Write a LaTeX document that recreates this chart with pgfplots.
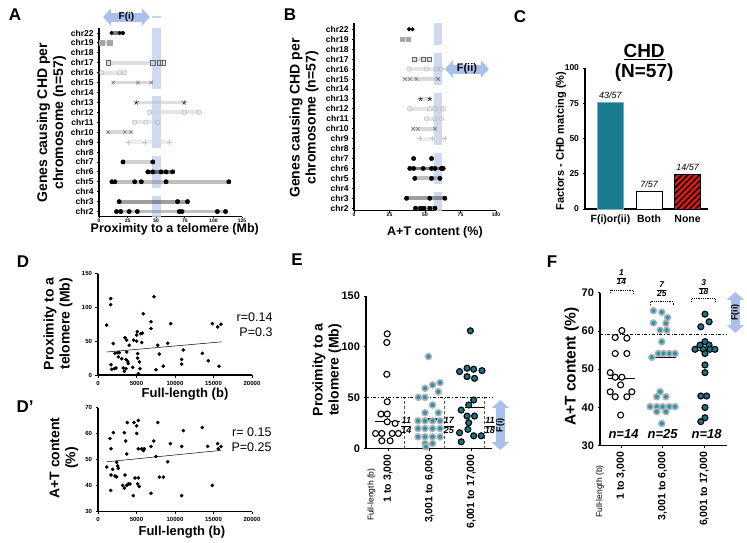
\documentclass[border=0pt]{standalone}
\usepackage{fontspec}
\setmainfont{Liberation Sans}
\usepackage{pgfplots}
\pgfplotsset{compat=1.18}
\usetikzlibrary{arrows.meta,patterns.meta}
\definecolor{tealA}{RGB}{22,124,142}
\definecolor{tealB}{RGB}{38,152,172}
\definecolor{tealC}{RGB}{20,118,135}
\definecolor{bandblue}{RGB}{198,212,240}
\definecolor{arrblue}{RGB}{168,192,234}
\definecolor{hatchred}{RGB}{228,22,22}
\newcommand{\fs}[2]{\fontsize{#1}{#2}\selectfont}
\newcommand{\fr}[2]{\renewcommand{\arraystretch}{0.85}\setlength{\arrayrulewidth}{0.6pt}\begin{tabular}{@{}c@{}}#1\\\hline #2\end{tabular}}
\tikzset{arr/.style={arrblue, line width=9pt, {Triangle[width=17pt,length=8pt]}-{Triangle[width=17pt,length=8pt]}}}
\pgfplotsset{
  base/.style={scale only axis, clip=false, anchor=south west,
    axis x line*=bottom, axis y line*=left,
    axis line style={line width=1.1pt, black},
    tick style={black, line width=0.8pt},
    tick align=outside, major tick length=2.5pt,
    /pgf/number format/assume math mode=true,
    /pgf/number format/set thousands separator={},
    scaled ticks=false,
    ticklabel style={font=\bfseries\fs{6}{7}},
    xlabel style={anchor=center, font=\bfseries\fs{13}{15}},
    ylabel style={anchor=center, align=center, font=\bfseries\fs{14}{16}},
  },
  dots/.style={only marks, mark=*, mark size=#1, black, mark options={fill=black, draw=black}},
  dots/.default=2.2pt,
  vio/.style={line width=3.8pt, line cap=round, draw=#1, opacity=.5},
  g1/.style={only marks, mark=*, mark size=3pt, mark options={fill=white, draw=black, line width=1.1pt}},
  g2/.style={only marks, mark=*, mark size=3pt, mark options={fill=tealB, draw=gray!60, line width=1.5pt}},
  g3/.style={only marks, mark=*, mark size=3pt, mark options={fill=tealC, draw=black, line width=1.1pt}},
}
\begin{document}
\begin{tikzpicture}
\useasboundingbox (0pt,0pt) rectangle (747pt,-542pt);
% panel letters
\node[font=\bfseries\fs{17}{17}] at (15pt,-15pt) {A};
\node[font=\bfseries\fs{17}{17}] at (290pt,-15pt) {B};
\node[font=\bfseries\fs{17}{17}] at (520pt,-17pt) {C};
\node[font=\bfseries\fs{17}{17}] at (23pt,-262pt) {D};
\node[font=\bfseries\fs{17}{17}] at (25pt,-407pt) {D’};
\node[font=\bfseries\fs{17}{17}] at (297pt,-260pt) {E};
\node[font=\bfseries\fs{17}{17}] at (552pt,-262pt) {F};

% ---------------- Panel A ----------------
\begin{axis}[base, at={(99pt,-216.5pt)}, width=143pt, height=188.5pt,
  xmin=0, xmax=125, ymin=0.5, ymax=19.5,
  xtick={0,25,50,75,100,125}, ytick={1,...,19},
  major tick length=1.8pt,
  yticklabel style={font=\bfseries\fs{8.5}{9}},
  yticklabels={chr2,chr3,chr4,chr5,chr6,chr7,chr8,chr9,chr10,chr11,chr12,chr13,chr14,chr15,chr16,chr17,chr18,chr19,chr22},
  xticklabel style={font=\bfseries\fs{5}{6}, inner sep=0.5pt},
  xlabel={Proximity to a telomere (Mb)},
  xlabel style={at={(axis description cs:0.53,-0.07)}, font=\bfseries\fs{12.5}{14}},
  ylabel={Genes causing CHD per\\chromosome (n=57)},
  ylabel style={at={(axis description cs:-0.333,0.497)}},
]
\fill[bandblue, opacity=.85] (axis cs:46,0.5) rectangle (axis cs:54,2.6);
\fill[bandblue, opacity=.85] (axis cs:46,3.4) rectangle (axis cs:54,6.6);
\fill[bandblue, opacity=.85] (axis cs:46,7.4) rectangle (axis cs:54,12.6);
\fill[bandblue, opacity=.85] (axis cs:46,13.4) rectangle (axis cs:54,19.5);
\fill[bandblue] (axis cs:46,20.5) rectangle (axis cs:54,20.75);
\draw[arr] (axis cs:3.5,20.6) -- (axis cs:44.5,20.6) node[midway, text=black, font=\bfseries\fs{10}{10}] {F(i)};
% chr2
\addplot[vio=gray] coordinates {(15.3,1)(110.6,1)};
\addplot[dots] coordinates {(15.3,1)(19,1)(26.3,1)(33.5,1)(70.2,1)(72.5,1)(103.4,1)(110.6,1)};
% chr3
\addplot[vio=darkgray] coordinates {(17.6,2)(77.4,2)};
\addplot[dots] coordinates {(17.6,2)(68.7,2)(77.4,2)};
% chr5
\addplot[vio=gray] coordinates {(11.3,4)(113.5,4)};
\addplot[dots] coordinates {(11.3,4)(13.9,4)(31.2,4)(37,4)(58.6,4)(113.5,4)};
% chr6
\addplot[vio=black] coordinates {(42.7,5)(64.4,5)};
\addplot[dots] coordinates {(42.7,5)(47,5)(54.3,5)(58.6,5)(64.4,5)};
% chr7
\addplot[vio=gray!70] coordinates {(21,6)(47,6)};
\addplot[dots] coordinates {(21,6)(47,6)};
% chr9
\addplot[vio=gray!30] coordinates {(25.4,8)(61.5,8)};
\addplot[only marks, mark=+, mark size=2.5pt, gray!45] coordinates {(25.4,8)(40,8)(61.5,8)};
% chr10
\addplot[vio=gray!60] coordinates {(8,9)(28,9)};
\addplot[only marks, mark=x, mark size=2.5pt, gray!80!black] coordinates {(8,9)(22.5,9)(28,9)};
% chr11
\addplot[vio=gray!35] coordinates {(31,10)(51.4,10)};
\addplot[only marks, mark=o, mark size=2.3pt, gray!55] coordinates {(31,10)(41,10)(51.4,10)};
% chr12
\addplot[vio=gray!40] coordinates {(44,11)(87.5,11)};
\addplot[only marks, mark=o, mark size=2.5pt, gray!60] coordinates {(44,11)(74.5,11)(87.5,11)};
% chr13
\addplot[vio=gray!50] coordinates {(32.6,12)(74.5,12)};
\addplot[only marks, mark=star, mark size=2.6pt, black] coordinates {(32.6,12)(74.5,12)};
% chr15
\addplot[vio=gray!60] coordinates {(12.4,14)(45.6,14)};
\addplot[only marks, mark=x, mark size=2.5pt, gray!80!black] coordinates {(12.4,14)(34,14)(45.6,14)};
% chr16
\addplot[vio=gray!40] coordinates {(2.3,15)(22.5,15)};
\addplot[only marks, mark=o, mark size=2.3pt, gray!60] coordinates {(2.3,15)(18,15)(22.5,15)};
% chr17
\addplot[vio=gray!50] coordinates {(8,16)(55.7,16)};
\addplot[only marks, mark=square, mark size=2.2pt, gray!80!black] coordinates {(8,16)(47,16)(53,16)(55.7,16)};
% chr19
\addplot[vio=gray!60] coordinates {(2.3,18)(9.5,18)};
\addplot[only marks, mark=square*, mark size=2.2pt, gray!70] coordinates {(2.3,18)(9.5,18)};
% chr22
\addplot[vio=black] coordinates {(11,19)(21,19)};
\addplot[dots=1.8pt] coordinates {(11,19)(18,19)(21,19)};
\end{axis}

% ---------------- Panel B ----------------
\begin{axis}[base, at={(354pt,-210.7pt)}, width=142pt, height=187.4pt,
  xmin=0, xmax=100, ymin=0.75, ymax=19.6,
  xtick={0,25,50,75,100}, ytick={1,...,19},
  major tick length=1.8pt,
  yticklabels={chr2,chr3,chr4,chr5,chr6,chr7,chr8,chr9,chr10,chr11,chr12,chr13,chr14,chr15,chr16,chr17,chr18,chr19,chr22},
  yticklabel style={font=\bfseries\fs{8.5}{9}},
  xticklabel style={font=\bfseries\fs{5}{6}, inner sep=0.5pt},
  xlabel={A+T content (\%)},
  xlabel style={at={(axis description cs:0.57,-0.114)}, font=\bfseries\fs{12.5}{14}},
  ylabel={Genes causing CHD per\\chromosome (n=57)},
  ylabel style={at={(axis description cs:-0.352,0.495)}},
]
\fill[bandblue, opacity=.85] (axis cs:56,0.75) rectangle (axis cs:62,2.6);
\fill[bandblue, opacity=.85] (axis cs:56,3.4) rectangle (axis cs:62,6.6);
\fill[bandblue, opacity=.85] (axis cs:56,7.4) rectangle (axis cs:62,12.6);
\fill[bandblue, opacity=.85] (axis cs:56,13.4) rectangle (axis cs:62,16.6);
\fill[bandblue, opacity=.85] (axis cs:56,17.4) rectangle (axis cs:62,19.6);
\draw[arr] (axis cs:64,15) -- (axis cs:95,15) node[midway, text=black, font=\bfseries\fs{11}{11}] {F(ii)};
% chr2
\addplot[vio=gray] coordinates {(43.3,1)(57,1)};
\addplot[dots] coordinates {(43.3,1)(46.8,1)(49.2,1)(53.4,1)(57,1)};
% chr3
\addplot[vio=darkgray] coordinates {(37,2)(64,2)};
\addplot[dots] coordinates {(37,2)(53.4,2)(64,2)};
% chr5
\addplot[vio=gray] coordinates {(42.8,4)(60.5,4)};
\addplot[dots] coordinates {(42.8,4)(54.6,4)(60.5,4)};
% chr6
\addplot[vio=black] coordinates {(39.3,5)(62.8,5)};
\addplot[dots] coordinates {(39.3,5)(42,5)(48.7,5)(54.6,5)(57,5)(61.6,5)(62.8,5)};
% chr7
\addplot[dots] coordinates {(42,6)(54.6,6)};
% chr9
\addplot[vio=gray!30] coordinates {(46.4,8)(64,8)};
\addplot[only marks, mark=+, mark size=2.5pt, gray!45] coordinates {(46.4,8)(55,8)(64,8)};
% chr10
\addplot[vio=gray!60] coordinates {(41.6,9)(57,9)};
\addplot[only marks, mark=x, mark size=2.5pt, gray!80!black] coordinates {(41.6,9)(45,9)(57,9)};
% chr11
\addplot[vio=gray!35] coordinates {(51,10)(61.6,10)};
\addplot[only marks, mark=o, mark size=2.3pt, gray!55] coordinates {(51,10)(57,10)(61.6,10)};
% chr12
\addplot[vio=gray!40] coordinates {(39.3,11)(62.8,11)};
\addplot[only marks, mark=o, mark size=2.5pt, gray!60] coordinates {(39.3,11)(53.4,11)(57,11)(62.8,11)};
% chr13
\addplot[vio=gray!50] coordinates {(46.8,12)(53.4,12)};
\addplot[only marks, mark=star, mark size=2.6pt, black] coordinates {(46.8,12)(53.4,12)};
% chr15
\addplot[vio=gray!60] coordinates {(35.8,14)(59.3,14)};
\addplot[only marks, mark=x, mark size=2.5pt, gray!80!black] coordinates {(35.8,14)(39.3,14)(44,14)(59.3,14)};
% chr16
\addplot[vio=gray!40] coordinates {(38.8,15)(61.6,15)};
\addplot[only marks, mark=o, mark size=2.3pt, gray!60] coordinates {(38.8,15)(51,15)(58,15)(61.6,15)};
% chr17
\addplot[vio=gray!50] coordinates {(42.4,16)(53,16)};
\addplot[only marks, mark=square, mark size=2.2pt, gray!80!black] coordinates {(42.4,16)(48.7,16)(53,16)};
% chr19
\addplot[vio=gray!60] coordinates {(34,18)(38,18)};
\addplot[only marks, mark=square*, mark size=2.2pt, gray!70] coordinates {(34,18)(38,18)};
% chr22
\addplot[dots=1.9pt] coordinates {(38.8,19)(41.2,19)};
\end{axis}

% ---------------- Panel C ----------------
\begin{axis}[base, at={(585pt,-209pt)}, width=123pt, height=141pt,
  xmin=-0.66, xmax=2.53, ymin=0, ymax=100,
  ytick={0,25,50,75,100}, xtick={0,1,2}, xticklabels={F(i)or(ii),Both,None},
  xtick style={draw=none},
  xticklabel style={font=\bfseries\fs{10.5}{11}},
  yticklabel style={font=\bfseries\fs{8.5}{9}},
  ylabel={Factors - CHD matcing (\%)},
  ylabel style={at={(axis description cs:-0.195,0.482)}, font=\bfseries\fs{11}{12}},
]
\addplot[ybar, bar shift=0pt, bar width=26pt, fill=tealA, draw=tealA!60!white, line width=0.8pt] coordinates {(0,75.4)};
\addplot[ybar, bar shift=0pt, bar width=26pt, fill=white, draw=black, line width=1pt] coordinates {(1,12.3)};
\addplot[ybar, bar shift=0pt, bar width=26pt, fill=hatchred, draw=black, line width=1pt,
  postaction={pattern={Lines[angle=45,distance=4.2pt,line width=1.5pt]}, pattern color=black}] coordinates {(2,24.6)};
\node[font=\bfseries\fs{19}{19}] at (axis cs:0.873,111.3) {\underline{CHD}};
\node[font=\bfseries\fs{19}{19}] at (axis cs:0.873,96.5) {(N=57)};
\node[font=\itshape\fs{9}{9}] at (axis cs:0,80.9) {43/57};
\node[font=\itshape\fs{9}{9}] at (axis cs:1,17.2) {7/57};
\node[font=\itshape\fs{9}{9}] at (axis cs:2,29.8) {14/57};
\end{axis}

% ---------------- Panel D ----------------
\begin{axis}[base, at={(98pt,-375pt)}, width=154pt, height=101.5pt,
  xmin=0, xmax=20000, ymin=0, ymax=150,
  xtick={0,5000,10000,15000,20000}, ytick={0,50,100,150},
  xlabel={Full-length (b)},
  xlabel style={at={(axis description cs:0.565,-0.188)}},
  ylabel={Proximity to a\\telomere (Mb)},
  ylabel style={at={(axis description cs:-0.26,0.505)}},
]
\addplot[dots=1.6pt] coordinates {(1126,73.8)(1645,113)(1645,104)(1688,15.3)(1774,8.4)(1991,46.5)(2121,9.4)(2337,10.4)(2554,33)(2640,26.7)(2770,33)(3290,10.4)(3420,5.4)(3506,55)(3636,9.4)(3636,23)(3723,51.5)(3723,34)(3853,20)(3939,17)(4069,44)(4502,11.4)(4632,51.5)(5022,50)(5022,59)(5108,64)(5152,31.7)(5152,25)(5238,2)(5368,19.3)(5454,9.4)(5671,48)(5757,62)(5540,61)(5887,90.5)(6883,78.7)(6883,68.8)(7273,115.8)(7533,7.9)(7749,44)(7966,31)(8486,13)(9049,47)(9437,76)(10866,23)(10866,16)(11082,37)(13550,32)(14329,21)(14848,76)(15541,71)(15714,13)(15974,75)(3074,24)(2208,32)};
\addplot[black, line width=0.5pt] coordinates {(1126,34)(16060,49)};
\node[anchor=east, align=right, font=\fs{12.5}{15}] at (axis cs:23117,75) {r=0.14\\P=0.3};
\end{axis}

% ---------------- Panel D' ----------------
\begin{axis}[base, at={(98pt,-511.7pt)}, width=154pt, height=104pt,
  xmin=0, xmax=20000, ymin=30, ymax=70,
  xtick={0,5000,10000,15000,20000}, ytick={30,40,50,60,70},
  xlabel={Full-length (b)},
  xlabel style={at={(axis description cs:0.545,-0.192)}},
  ylabel={A+T content\\(\%)},
  ylabel style={at={(axis description cs:-0.22,0.516)}},
]
\addplot[dots=1.6pt] coordinates {(1126,47.2)(1558,58.2)(1688,54.2)(2000,60.4)(1688,44.1)(1905,46.3)(1645,38.2)(2208,43.7)(2424,43.4)(2424,49)(2554,47.6)(2640,46.7)(3420,60.4)(3593,57.2)(3723,52.2)(3506,44.1)(3810,64.3)(3203,40.1)(3420,39.1)(3723,40.1)(3940,40.7)(4156,40.7)(4589,36.2)(4675,64.3)(5022,63)(5238,65.1)(5022,60.1)(5238,43)(5152,40.7)(5368,39.7)(5238,54.2)(5671,54.2)(5887,53.5)(6017,54.2)(4805,43)(6883,55.1)(7230,57.2)(6883,37.1)(7533,51.2)(7749,64.3)(7966,43.3)(8486,43.3)(9049,49.2)(9395,56.2)(10866,55.1)(10866,36.2)(11082,61.2)(13550,62.4)(14242,55.1)(14848,40.1)(15541,56.2)(15627,54.2)(15974,55.1)};
\addplot[black, line width=0.5pt] coordinates {(1126,49.2)(15974,53.6)};
\node[anchor=east, align=right, font=\fs{12.5}{15}] at (axis cs:22987,57.8) {r= 0.15\\P=0.25};
\end{axis}

% ---------------- Panel E ----------------
\begin{axis}[base, at={(366pt,-448.5pt)}, width=126pt, height=152.5pt,
  xmin=0.47, xmax=3.5, ymin=0, ymax=150,
  ytick={0,50,100,150}, xtick={1,2,3},
  xticklabels={{1 to 3,000},{3,001 to 6,000},{6,001 to 17,000}},
  xticklabel style={rotate=90, anchor=east, font=\bfseries\fs{10.5}{11}},
  yticklabel style={font=\bfseries\fs{11}{11}},
  ylabel={Proximity to a\\telomere (Mb)},
  ylabel style={at={(axis description cs:-0.31,0.515)}},
]
\draw[densely dashed, line width=0.6pt, gray!70!black] (axis cs:1.386,0) -- (axis cs:1.386,50);
\draw[densely dashed, line width=0.6pt, gray!70!black] (axis cs:2.357,0) -- (axis cs:2.357,50);
\draw[densely dashed, line width=0.6pt, gray!70!black] (axis cs:3.32,0) -- (axis cs:3.32,50);
\draw[arr] (axis cs:3.7,-1.5) -- (axis cs:3.7,47.7) node[midway, rotate=90, text=black, font=\bfseries\fs{9}{9}] {F(i)};
\addplot[g1] coordinates {(0.98,112.8)(0.97,104.3)(0.97,73)(0.98,46)(0.83,33.9)(0.98,33.9)(0.98,26.3)(1.17,24.7)(0.70,14.8)(0.85,14.8)(1.10,14.8)(1.25,14.8)(0.85,7.6)(1.05,7.6)};
\addplot[g2] coordinates {(1.97,90.5)(1.89,59.2)(2.07,62.5)(2.25,64.8)(1.73,50.3)(1.89,50.3)(2.21,55.9)(2.07,42.8)(1.89,35.2)(2.21,35.2)(1.72,27.3)(1.89,27.3)(2.07,27.3)(2.25,27.3)(1.72,19.7)(1.89,19.7)(2.07,19.7)(2.25,19.7)(1.72,11.5)(1.89,11.5)(2.07,11.5)(2.25,11.5)(1.89,4.9)(2.07,4.9)(1.91,1.6)};
\addplot[g3] coordinates {(2.98,115.8)(2.72,75.7)(2.90,79)(3.06,78)(3.26,76.6)(2.90,70.7)(3.08,69)(3.06,47.7)(2.94,42.8)(2.76,37.8)(2.90,31.9)(3.08,31.9)(2.94,25.3)(2.92,18.8)(2.72,15.5)(3.06,12.5)(3.24,12.5)(2.76,6.6)};
\draw[dash dot, line width=1.1pt] (axis cs:0.47,50) -- (axis cs:3.5,50);
\addplot[black, line width=1.1pt] coordinates {(0.68,26.3)(1.29,26.3)};
\addplot[black, line width=1.1pt] coordinates {(1.81,29)(2.17,29)};
\addplot[black, line width=1.1pt] coordinates {(2.86,40.5)(3.30,40.5)};
\node[font=\bfseries\itshape\fs{9}{10}] at (axis cs:1.44,21.4) {\fr{11}{14}};
\node[font=\bfseries\itshape\fs{9}{10}] at (axis cs:2.46,21.4) {\fr{17}{25}};
\node[font=\bfseries\itshape\fs{9}{10}] at (axis cs:3.45,21.4) {\fr{11}{18}};
\node[rotate=90, anchor=east, font=\fs{8.5}{9}] at (axis cs:0.6,-16.2) {Full-length (b)};
\end{axis}

% ---------------- Panel F ----------------
\begin{axis}[base, at={(600pt,-445.7pt)}, width=127pt, height=153pt,
  xmin=0.494, xmax=3.55, ymin=30, ymax=70,
  ytick={30,40,50,60,70}, xtick={1,2,3},
  xticklabels={{1 to 3,000},{3,001 to 6,000},{6,001 to 17,000}},
  xticklabel style={rotate=90, anchor=east, font=\bfseries\fs{10.5}{11}},
  yticklabel style={font=\bfseries\fs{11}{11}},
  ylabel={A+T content (\%)},
  ylabel style={at={(axis description cs:-0.223,0.516)}, font=\bfseries\fs{15.5}{17}},
]
\draw[arr] (axis cs:3.75,59.5) -- (axis cs:3.75,70.2) node[midway, rotate=90, text=black, font=\bfseries\fs{9}{9}] {F(ii)};
\addplot[g1] coordinates {(1.02,60.1)(0.86,58.3)(1.14,58.1)(0.86,54.1)(1.14,54.1)(0.74,49.1)(0.86,47.9)(1.02,47.9)(0.99,45.9)(0.74,44.1)(1.26,44.1)(0.86,42.8)(1.14,42.8)(0.99,38)};
\addplot[g2] coordinates {(1.78,65.3)(1.98,64.9)(2.12,63.5)(1.78,62.1)(2.08,62.0)(1.94,60.2)(2.10,60.2)(1.98,57.2)(1.74,53.1)(1.90,54.1)(2.02,54.1)(2.16,54.1)(2.30,54.1)(1.94,44.1)(1.86,42.8)(2.08,42.8)(1.70,40.2)(1.86,40.2)(2.0,40.2)(2.16,40.2)(2.30,40.2)(1.86,38.9)(2.08,38.9)(1.98,35.8)};
\addplot[g3] coordinates {(3.02,64.4)(3.12,62.4)(2.92,61.1)(3.02,57.2)(2.90,56.3)(3.12,56.3)(2.78,55.2)(2.98,55.2)(3.14,55.2)(3.26,55.2)(3.02,54.1)(3.02,51.1)(3.02,49.1)(2.92,43)(3.06,43)(3.02,40)(3.02,37.3)(2.92,36.3)};
\draw[dash dot, line width=1.1pt] (axis cs:0.494,59) -- (axis cs:3.55,59);
\addplot[black, line width=1.1pt] coordinates {(0.69,47.5)(1.33,47.5)};
\addplot[black, line width=1.1pt] coordinates {(1.66,53)(2.32,53)};
\addplot[black, line width=1.1pt] coordinates {(2.80,55)(3.25,55)};
\draw[densely dotted, line width=0.8pt] (axis cs:0.735,69.9) -- (axis cs:0.735,70.7) -- (axis cs:1.29,70.7) -- (axis cs:1.29,69.9);
\draw[densely dotted, line width=0.8pt] (axis cs:1.70,66.8) -- (axis cs:1.70,67.6) -- (axis cs:2.26,67.6) -- (axis cs:2.26,66.8);
\draw[densely dotted, line width=0.8pt] (axis cs:2.70,67.7) -- (axis cs:2.70,68.5) -- (axis cs:3.27,68.5) -- (axis cs:3.27,67.7);
\node[font=\bfseries\itshape\fs{8.5}{10}] at (axis cs:1.01,73.8) {\fr{1}{14}};
\node[font=\bfseries\itshape\fs{8.5}{10}] at (axis cs:1.98,70.6) {\fr{7}{25}};
\node[font=\bfseries\itshape\fs{8.5}{10}] at (axis cs:2.99,71.2) {\fr{3}{18}};
\node[font=\bfseries\itshape\fs{13}{13}] at (axis cs:1.06,33) {n=14};
\node[font=\bfseries\itshape\fs{13}{13}] at (axis cs:2.0,33) {n=25};
\node[font=\bfseries\itshape\fs{13}{13}] at (axis cs:3.06,33) {n=18};
\node[rotate=90, anchor=east, font=\fs{8.5}{9}] at (axis cs:0.494,25.8) {Full-length (b)};
\end{axis}
\end{tikzpicture}
\end{document}
